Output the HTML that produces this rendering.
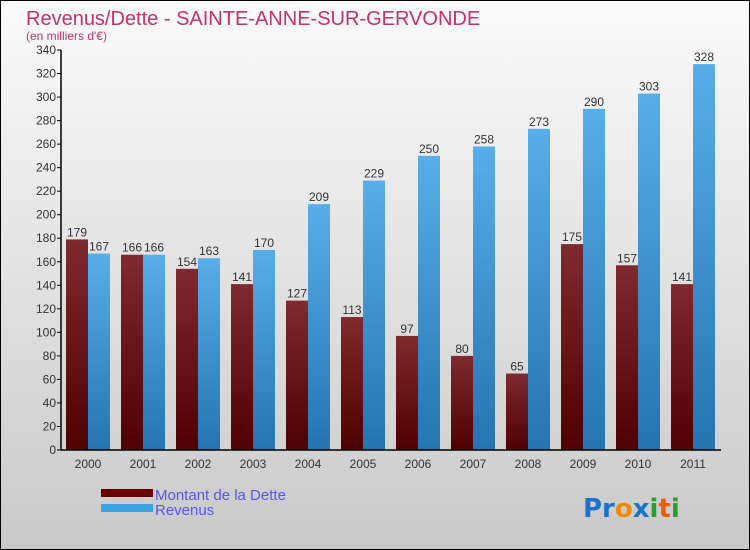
<!DOCTYPE html>
<html><head><meta charset="utf-8"><style>
body{margin:0;}
#c{width:750px;height:550px;position:relative;box-sizing:border-box;border:1px solid #000;background:linear-gradient(#fbfbfb,#c9c9c9);font-family:"Liberation Sans",sans-serif;overflow:hidden}
</style></head><body>
<div id="c">
<svg id="s" width="748" height="548" xmlns="http://www.w3.org/2000/svg">
<defs>
<linearGradient id="gd" x1="0" y1="0" x2="0" y2="1"><stop offset="0" stop-color="#7f2a2e"/><stop offset="1" stop-color="#4f0000"/></linearGradient>
<linearGradient id="gr" x1="0" y1="0" x2="0" y2="1"><stop offset="0" stop-color="#58aee8"/><stop offset="1" stop-color="#2474b0"/></linearGradient>
</defs>
<text x="25" y="24" font-size="20" fill="#c8306a">Revenus/Dette - SAINTE-ANNE-SUR-GERVONDE</text>
<text x="25" y="39" font-size="12" fill="#c8306a">(en milliers d'€)</text>
<g id="plot"></g>
<rect x="100" y="488" width="52" height="8" fill="#6b0000"/>
<text x="154" y="499" font-size="15" fill="#5555ee">Montant de la Dette</text>
<rect x="100" y="503" width="52" height="8" fill="#3a9fe3"/>
<text x="154" y="514" font-size="15" fill="#5555ee">Revenus</text>
<g font-size="26" font-family="'DejaVu Sans',sans-serif" font-weight="bold">
<text x="582" y="516"><tspan fill="#1a73c9">Pr</tspan><tspan fill="#f08a00">o</tspan><tspan fill="#1a73c9">x</tspan><tspan fill="#2aa02a">i</tspan><tspan fill="#f05a00">t</tspan><tspan fill="#2aa02a">i</tspan></text>
</g>
</svg>
</div>
<script>
const years=["2000","2001","2002","2003","2004","2005","2006","2007","2008","2009","2010","2011"];
const dette=[179,166,154,141,127,113,97,80,65,175,157,141];
const revenus=[167,166,163,170,209,229,250,258,273,290,303,328];
const yTicks=[0,20,40,60,80,100,120,140,160,180,200,220,240,260,280,300,320,340];
const NS="http://www.w3.org/2000/svg";
const g=document.getElementById('plot');
const x0=60,x1=720,yb=449,yt=49,ymax=340;
const y=v=>yb-(v/ymax)*(yb-yt);
const gx=i=>65+i*55;
function mk(t,a,txt){const e=document.createElementNS(NS,t);for(const k in a)e.setAttribute(k,a[k]);if(txt!==undefined)e.textContent=txt;g.appendChild(e);return e;}
years.forEach((yr,i)=>{
 const bx=gx(i);
 let r=mk('rect',{x:bx,y:y(dette[i]),width:22,height:yb-y(dette[i]),fill:'url(#gd)'});
 
 
 let r2=mk('rect',{x:bx+22,y:y(revenus[i]),width:22,height:yb-y(revenus[i]),fill:'url(#gr)'});
 
 
 let t=mk('text',{x:bx+11,y:y(dette[i])-3,'font-size':12,fill:'#333','text-anchor':'middle'},dette[i]);
 
 
 let t2=mk('text',{x:bx+33,y:y(revenus[i])-3,'font-size':12,fill:'#333','text-anchor':'middle'},revenus[i]);
 
 
 let xl=mk('text',{x:bx+22,y:467,'font-size':12,fill:'#333','text-anchor':'middle'},yr);
 
 
});
yTicks.forEach(v=>{
 mk('line',{x1:x0-4,x2:x0,y1:y(v),y2:y(v),stroke:'#000'});
 let t=mk('text',{x:x0-5,y:y(v)+4,'font-size':12,fill:'#333','text-anchor':'end'},v);
 
 
});
let ya=mk('line',{x1:x0,x2:x0,y1:yt,y2:yb,stroke:'#000','stroke-width':1.5});


let xa=mk('line',{x1:x0,x2:x1,y1:yb,y2:yb,stroke:'#000','stroke-width':1.5});


</script>
</body></html>
